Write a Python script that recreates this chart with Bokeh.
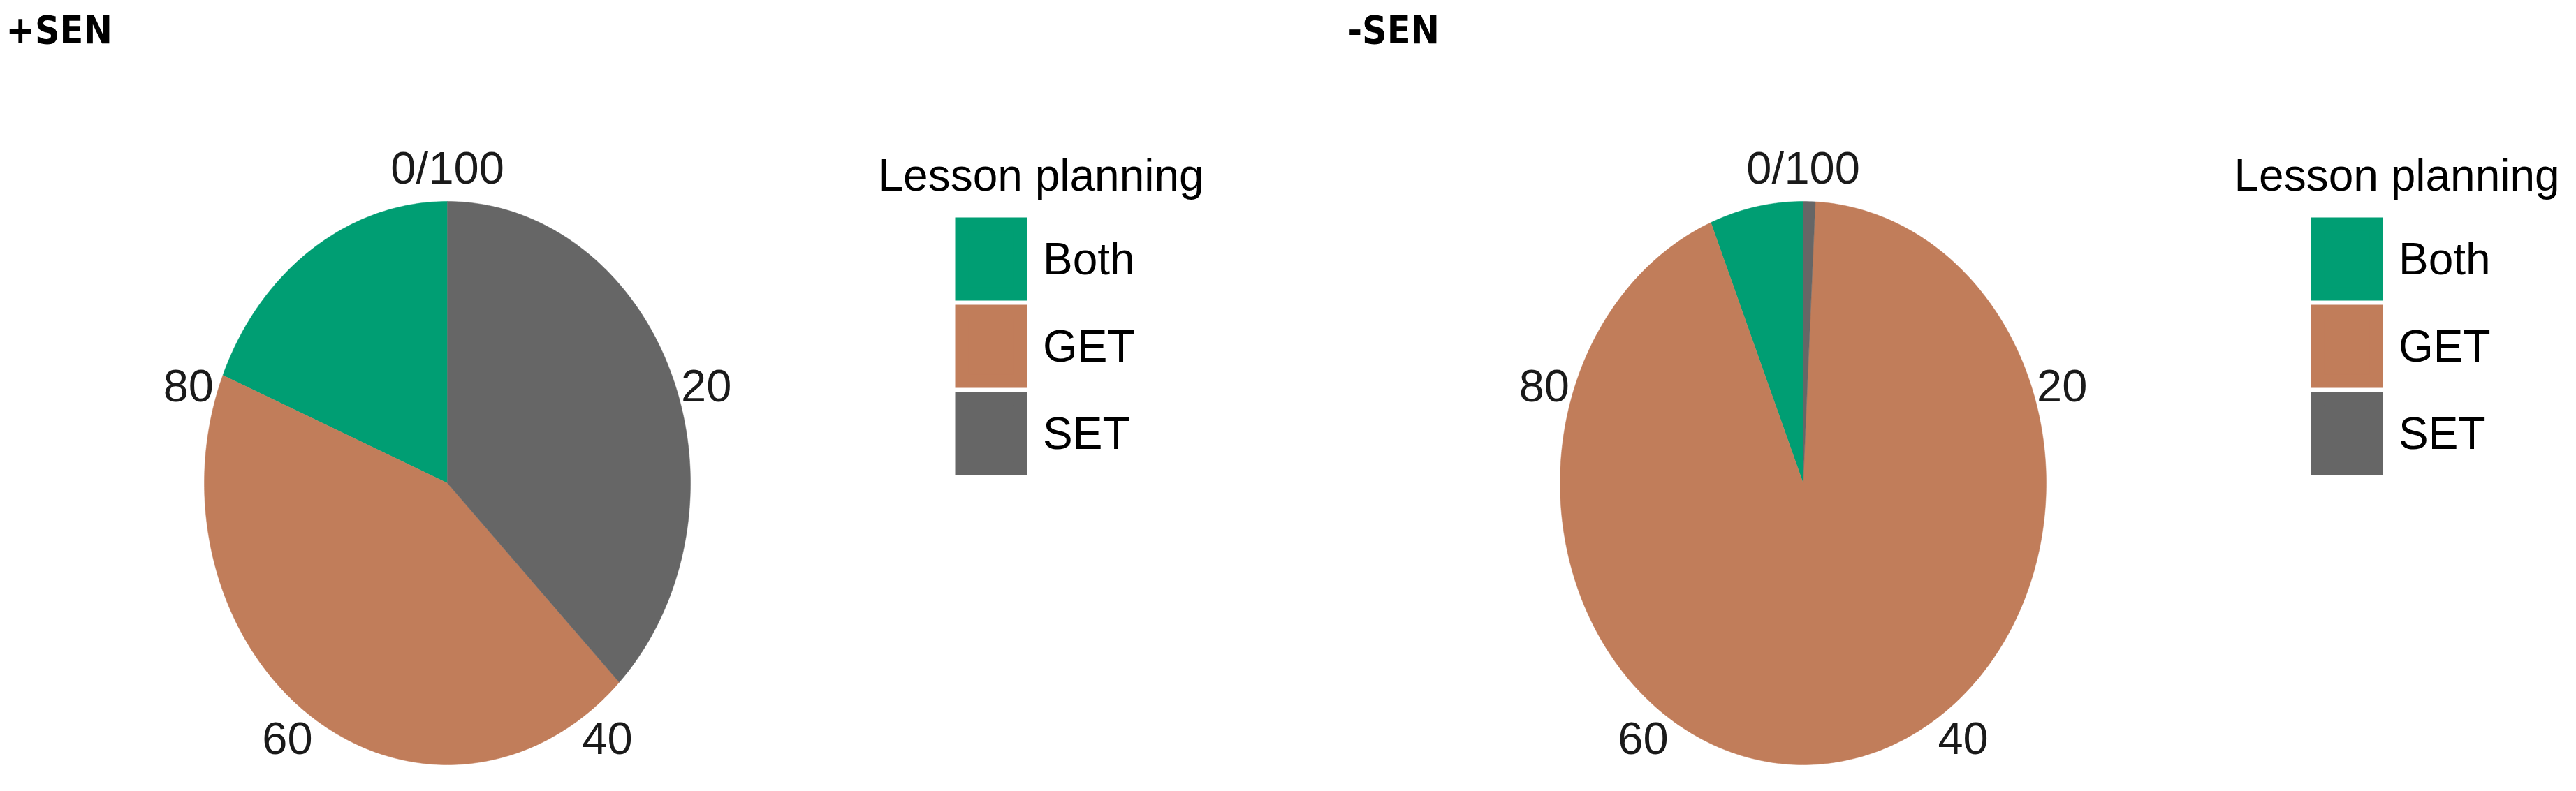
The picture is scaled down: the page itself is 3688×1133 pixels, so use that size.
import numpy as np
from bokeh.plotting import figure
from bokeh.models import ColumnDataSource, Range1d, Label, Legend, LegendItem
from bokeh.layouts import row
from bokeh.core.properties import value
from bokeh.embed import file_html
from bokeh.resources import INLINE

# ---- data ----
categories = ["Both", "GET", "SET"]
colors = ["#009E73", "#C17D5A", "#666666"]
stack_order = ["SET", "GET", "Both"]          # clockwise from 12 o'clock
sen_plus = {"Both": 18.75, "GET": 43.75, "SET": 37.5}
sen_minus = {"Both": 6.2, "GET": 93.0, "SET": 0.8}
tick_values = [0, 20, 40, 60, 80]
tick_labels = ["0/100", "20", "40", "60", "80"]
panel_titles = ["+SEN", "-SEN"]
legend_title = "Lesson planning"

W, H = 1844, 1133
RX, RY = 348.0, 403.5
CY = 691.5
FONT = "Liberation Sans, Arial, sans-serif"
TITLE_FONT = "Liberation Sans Narrow, DejaVu Sans Condensed, sans-serif"

# legend key geometry: Bokeh insets area-legend glyphs by 10% per side;
# a thick same-coloured outline grows them back to the reference key size.
KEY_W, KEY_H, KEY_PITCH = 103, 119, 125
GH = KEY_PITCH
KEY_LW = KEY_H - 0.8 * GH            # 19
GW = int(round((KEY_W - KEY_LW) / 0.8))


def make_panel(vals, title, cx, title_x):
    p = figure(width=W, height=H, output_backend="svg", toolbar_location=None,
               x_axis_type=None, y_axis_type=None, min_border=0,
               x_range=Range1d(-cx / RX, (W - cx) / RX),
               y_range=Range1d((CY - H) / RY, CY / RY))
    p.outline_line_color = None
    p.background_fill_color = "white"
    p.border_fill_color = "white"

    total = sum(vals[c] for c in categories)
    starts = {}
    acc = 0.0
    for c in stack_order:
        starts[c] = acc
        acc += vals[c]
    xs, ys, cols = [], [], []
    for c, col in zip(categories, colors):
        a0 = 2 * np.pi * starts[c] / total
        a1 = 2 * np.pi * (starts[c] + vals[c]) / total
        t = np.linspace(a0, a1, max(4, int(400 * (a1 - a0) / (2 * np.pi)) + 2))
        xs.append(np.concatenate([[0.0], np.sin(t), [0.0]]))
        ys.append(np.concatenate([[0.0], np.cos(t), [0.0]]))
        cols.append(col)
    src = ColumnDataSource(dict(xs=xs, ys=ys, color=cols, group=categories))
    p.patches("xs", "ys", source=src, fill_color="color", line_color="color",
              line_width=0.5)

    # theta-axis labels
    ang = 2 * np.pi * np.array(tick_values) / 100.0
    r = 1.12
    tsrc = ColumnDataSource(dict(x=r * np.sin(ang), y=r * np.cos(ang), t=tick_labels))
    p.text("x", "y", text="t", source=tsrc, text_align="center", text_baseline="middle",
           text_font=value(FONT), text_font_size=value("65px"), text_color="#1a1a1a")

    # panel title
    p.add_layout(Label(x=title_x, y=H - 42, x_units="screen", y_units="screen",
                       text=title, text_font=TITLE_FONT, text_font_style="bold",
                       text_font_size="55px", text_baseline="middle",
                       text_color="black"))

    # legend (key-only renderers, not drawn on the plot, carry the key styling)
    items = []
    nan = [float("nan")]
    for c, col in zip(categories, colors):
        kr = p.quad(left=nan, right=nan, top=nan, bottom=nan, fill_color=col,
                    line_color=col, line_width=KEY_LW, line_join="miter")
        items.append(LegendItem(label=c, renderers=[kr]))
    key_x = cx + 727            # left edge of drawn key
    key_top = 311               # top edge of first drawn key (figure px)
    off_x = 0.1 * GW - KEY_LW / 2
    off_y = 0.1 * GH - KEY_LW / 2
    leg_h = 3 * GH
    lg = Legend(items=items, glyph_width=GW, glyph_height=GH, spacing=0,
                padding=0, margin=0,
                label_standoff=int(round(KEY_W + 25 - GW - off_x)),
                label_text_font=FONT, label_text_font_size="64px",
                label_text_color="black", border_line_color=None,
                background_fill_alpha=0,
                location=(int(round(key_x - off_x)),
                          int(round(H - (key_top - off_y) - leg_h))))
    p.add_layout(lg)
    p.add_layout(Label(x=key_x - 110, y=H - 250, x_units="screen", y_units="screen",
                       text=legend_title, text_font=FONT, text_font_size="64px",
                       text_baseline="middle", text_color="black"))
    return p


p1 = make_panel(sen_plus, panel_titles[0], 640, 8)
p2 = make_panel(sen_minus, panel_titles[1], 737, 85)
layout = row(p1, p2, spacing=0)

open("out.html", "w").write(file_html(layout, INLINE))
